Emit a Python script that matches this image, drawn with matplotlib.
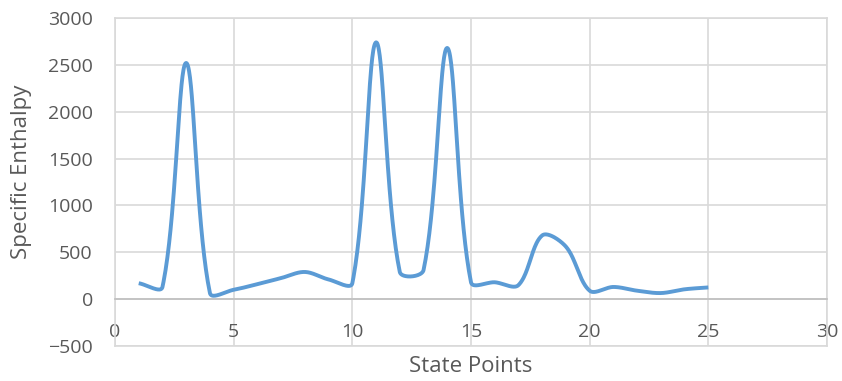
import numpy as np
import matplotlib.pyplot as plt

plt.rcParams['font.family'] = ['Open Sans', 'DejaVu Sans']

# state point number and specific enthalpy
state = [1, 2, 3, 4, 5, 6, 7, 8, 9, 10, 11, 12, 13, 14, 15, 16, 17, 18, 19, 20, 21, 22, 23, 24, 25]
enthalpy = [170, 130, 2520, 65, 100, 160, 225, 290, 210, 170, 2740, 290, 310, 2680, 180, 180, 150, 680, 560,
            90, 130, 90, 65, 105, 125]

x_ticks = [0, 5, 10, 15, 20, 25, 30]
y_ticks = [-500, 0, 500, 1000, 1500, 2000, 2500, 3000]

GRID = '#D9D9D9'
TEXT = '#595959'
LINE = '#5B9BD5'


def smooth(xs, ys, sx, sy, n=40):
    # Excel-like smoothed line: Bezier segments, tangents weighted by segment length (in pixels)
    P = np.column_stack([xs, ys]).astype(float)
    S = np.array([sx, sy])
    out = []
    t = np.linspace(0, 1, n)[:, None]
    for i in range(len(P) - 1):
        p0 = P[max(i - 1, 0)]
        p1, p2 = P[i], P[i + 1]
        p3 = P[min(i + 2, len(P) - 1)]
        d01 = np.hypot(*((p1 - p0) * S))
        d12 = np.hypot(*((p2 - p1) * S))
        d23 = np.hypot(*((p3 - p2) * S))
        f1 = d12 / (d01 + d12) if d01 + d12 > 0 else 0
        f2 = d12 / (d12 + d23) if d12 + d23 > 0 else 0
        c1 = p1 + (p2 - p0) * f1 / 3
        c2 = p2 - (p3 - p1) * f2 / 3
        seg = (1 - t)**3 * p1 + 3 * (1 - t)**2 * t * c1 + 3 * (1 - t) * t**2 * c2 + t**3 * p2
        out.append(seg if i == 0 else seg[1:])
    return np.vstack(out)


fig = plt.figure(figsize=(8.42, 3.81), dpi=100)
ax = fig.add_axes([115 / 842, 1 - 346 / 381, 712 / 842, 328 / 381])

ax.set_xlim(0, 30)
ax.set_ylim(-500, 3000)
curve = smooth(state, enthalpy, 712 / 30, 328 / 3500)
ax.plot(curve[:, 0], curve[:, 1], color=LINE, lw=2.8, solid_capstyle='butt', zorder=3)

ax.set_xticks(x_ticks)
ax.set_yticks(y_ticks)
ax.grid(True, color=GRID, lw=1.2)
ax.set_axisbelow(True)

for s in ['left', 'right', 'top']:
    ax.spines[s].set_color(GRID)
    ax.spines[s].set_linewidth(1.2)
ax.spines['bottom'].set_position(('data', 0))
ax.spines['bottom'].set_color('#BFBFBF')
ax.spines['bottom'].set_linewidth(1.2)
ax.axhline(-500, color=GRID, lw=1.2, clip_on=False)

ax.tick_params(axis='both', length=0, labelsize=14, labelcolor=TEXT)
ax.tick_params(axis='x', pad=17)
ax.tick_params(axis='y', pad=16)

ax.set_xlabel('State Points', fontsize=16, color=TEXT, va='center')
ax.xaxis.set_label_coords(0.5, -0.064)
ax.set_ylabel('Specific Enthalpy', fontsize=16, color=TEXT, va='center')
ax.yaxis.set_label_coords(-0.132, 0.53)

fig.savefig('out.png', dpi=100)
